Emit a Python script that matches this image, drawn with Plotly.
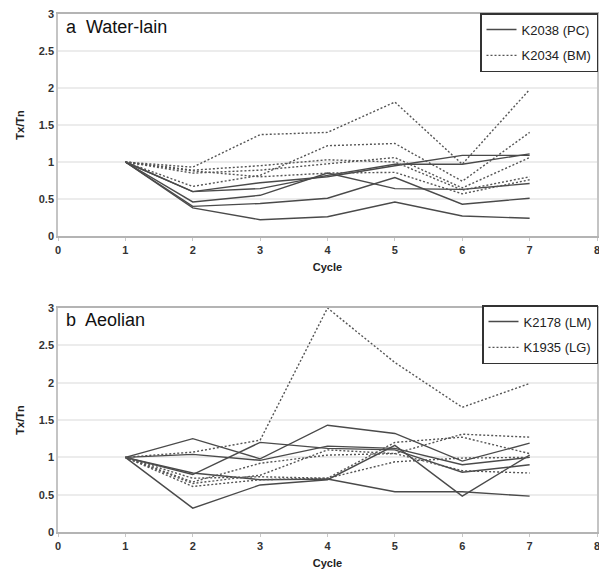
import plotly.graph_objects as go

cycles = [1, 2, 3, 4, 5, 6, 7]

# Panel a: Water-lain
k2038_pc = [
    [1, 0.60, 0.72, 0.80, 0.95, 1.09, 1.09],
    [1, 0.60, 0.64, 0.82, 0.97, 0.97, 1.11],
    [1, 0.46, 0.55, 0.85, 0.64, 0.63, 0.71],
    [1, 0.40, 0.44, 0.51, 0.79, 0.43, 0.51],
    [1, 0.38, 0.22, 0.26, 0.46, 0.27, 0.24],
]
k2034_bm = [
    [1, 0.93, 1.37, 1.40, 1.81, 0.97, 1.98],
    [1, 0.67, 0.82, 1.22, 1.25, 0.74, 1.40],
    [1, 0.89, 0.95, 1.03, 1.00, 0.62, 0.80],
    [1, 0.85, 0.89, 0.98, 1.06, 0.65, 1.06],
    [1, 0.88, 0.80, 0.85, 0.86, 0.57, 0.76],
]

# Panel b: Aeolian
k2178_lm = [
    [1, 1.25, 0.98, 1.43, 1.32, 0.95, 1.19],
    [1, 0.77, 1.20, 1.12, 1.10, 0.80, 0.90],
    [1, 1.04, 0.96, 1.15, 1.12, 0.90, 1.00],
    [1, 0.32, 0.63, 0.70, 1.16, 0.48, 1.03],
    [1, 0.79, 0.70, 0.71, 0.54, 0.54, 0.48],
]
k1935_lg = [
    [1, 1.07, 1.23, 3.00, 2.27, 1.67, 1.99],
    [1, 0.67, 0.92, 1.03, 1.05, 1.31, 1.27],
    [1, 0.72, 0.74, 0.72, 1.20, 1.27, 1.05],
    [1, 0.61, 0.70, 0.72, 0.94, 0.99, 1.00],
    [1, 0.65, 0.76, 1.10, 1.05, 0.82, 0.79],
]

x_ticks = [0, 1, 2, 3, 4, 5, 6, 7, 8]
y_ticks = [0, 0.5, 1, 1.5, 2, 2.5, 3]
y_ticklabels = ["0", "0.5", "1", "1.5", "2", "2.5", "3"]

# the page body has an 8px margin, so the figure is drawn 8px in from the top-left
OFF = 8
W, H = 607 - OFF, 575 - OFF
LINE = "#4a4a4a"
DOT = "#555555"

fig = go.Figure()

def add_group(series, name, dash, color, xa, ya, legend):
    for i, s in enumerate(series):
        fig.add_trace(go.Scatter(
            x=cycles, y=s, mode="lines", name=name, legendgroup=name,
            line=dict(color=color, width=1.4, dash=dash),
            xaxis=xa, yaxis=ya, legend=legend,
            showlegend=(i == 0), hoverinfo="skip"))

add_group(k2038_pc, "K2038 (PC)", "solid", LINE, "x", "y", "legend")
add_group(k2034_bm, "K2034 (BM)", "2px,2px", DOT, "x", "y", "legend")
add_group(k2178_lm, "K2178 (LM)", "solid", LINE, "x2", "y2", "legend2")
add_group(k1935_lg, "K1935 (LG)", "2px,2px", DOT, "x2", "y2", "legend2")

# convert reference-picture pixel positions to paper coordinates
px = lambda v: (v - OFF) / W
py = lambda v: 1 - (v - OFF) / H

tickfont = dict(family="Arial, Liberation Sans", size=11, color="#333333", weight="bold")
titlefont = dict(family="Arial, Liberation Sans", size=11, color="#222222", weight="bold")

def xaxis_cfg():
    return dict(
        domain=[px(58), px(597)], range=[0, 8], tickvals=x_ticks,
        ticktext=[str(v) for v in x_ticks],
        showgrid=False, zeroline=False,
        showline=True, linecolor="#b4b4b4", linewidth=2, mirror=True,
        ticks="outside", ticklen=3, tickcolor="#c8c8c8",
        tickfont=tickfont, ticklabeloverflow="allow",
        title=dict(text="Cycle", font=titlefont, standoff=8),
    )

def yaxis_cfg(y0, y1, anchor):
    return dict(
        domain=[py(y1), py(y0)], range=[0, 3], tickvals=y_ticks,
        ticktext=y_ticklabels, anchor=anchor,
        showgrid=True, gridcolor="#ececec", gridwidth=1.5,
        zeroline=False,
        showline=True, linecolor="#c4c4c4", linewidth=1.5, mirror=True,
        ticks="", tickfont=tickfont, ticklabeloverflow="allow",
        title=dict(text="Tx/Tn", font=titlefont, standoff=12),
    )

legend_common = dict(
    xanchor="right", yanchor="top",
    bordercolor="#333333", borderwidth=1.5, bgcolor="white",
    font=dict(family="Arial, Liberation Sans", size=13, color="#222222"),
    itemwidth=30, tracegroupgap=6,
)

fig.update_layout(
    width=W, height=H,
    margin=dict(l=0, r=0, t=0, b=0, autoexpand=False),
    paper_bgcolor="white", plot_bgcolor="white",
    xaxis=dict(xaxis_cfg(), anchor="y"),
    yaxis=yaxis_cfg(14, 236, "x"),
    xaxis2=dict(xaxis_cfg(), anchor="y2"),
    yaxis2=yaxis_cfg(308, 532, "x2"),
    legend=dict(legend_common, x=px(598), y=py(13)),
    legend2=dict(legend_common, x=px(598), y=py(305)),
    annotations=[
        dict(text="a  Water-lain", x=px(64), y=py(27), xref="paper", yref="paper",
             xanchor="left", yanchor="middle", showarrow=False,
             font=dict(family="Arial, Liberation Sans", size=18, color="#111111")),
        dict(text="b  Aeolian", x=px(64), y=py(320), xref="paper", yref="paper",
             xanchor="left", yanchor="middle", showarrow=False,
             font=dict(family="Arial, Liberation Sans", size=18, color="#111111")),
    ],
)

fig.write_html("out.html")
